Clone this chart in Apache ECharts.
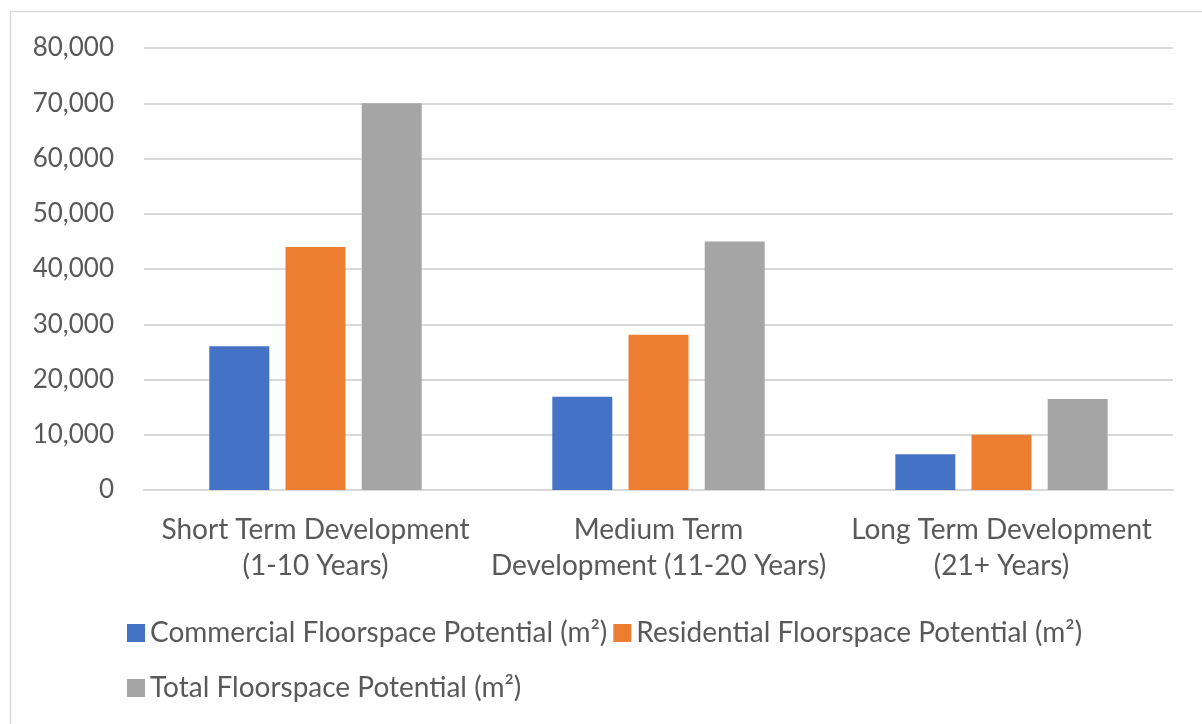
<!DOCTYPE html>
<html>
<head>
<meta charset="utf-8">
<script src="https://cdn.jsdelivr.net/npm/echarts@6/dist/echarts.min.js"></script>
<style>
  html, body { margin: 0; padding: 0; background: #ffffff; }
  #chart { width: 1202px; height: 724px; }
</style>
</head>
<body>
<div id="chart"></div>
<script>
// Development phases (two-line axis labels)
const categories = [
  'Short Term Development\n(1-10 Years)',
  'Medium Term\nDevelopment (11-20 Years)',
  'Long Term Development\n(21+ Years)'
];

// Floorspace potential in m² per phase
const commercial = [26000, 16900, 6450];
const residential = [44000, 28100, 10000];
const total = [70000, 45000, 16450];

const seriesNames = [
  'Commercial Floorspace Potential (m²)',
  'Residential Floorspace Potential (m²)',
  'Total Floorspace Potential (m²)'
];

// Value axis ticks
const yMin = 0;
const yMax = 80000;
const yStep = 10000;

const FONT = 'Lato, "Liberation Sans", sans-serif';
const TEXT = '#595959';
const GRID = '#d9d9d9';

const chart = echarts.init(document.getElementById('chart'), null, { renderer: 'canvas' });

const legendText = { color: TEXT, fontSize: 28, fontFamily: FONT };

chart.setOption({
  backgroundColor: '#ffffff',
  animation: false,
  color: ['#4472C4', '#ED7D31', '#A5A5A5'],
  graphic: [{
    type: 'rect',
    silent: true,
    shape: { x: 10.5, y: 11.5, width: 1200, height: 720 },
    style: { fill: 'none', stroke: GRID, lineWidth: 1.5 }
  }],
  grid: { left: 144, right: 29, top: 48, bottom: 234, containLabel: false },
  legend: [
    {
      data: [seriesNames[0], seriesNames[1]],
      left: 127, top: 619, padding: 0,
      itemWidth: 18, itemHeight: 18, itemGap: 6,
      icon: 'rect',
      textStyle: legendText
    },
    {
      data: [seriesNames[2]],
      left: 127, top: 674, padding: 0,
      itemWidth: 18, itemHeight: 18,
      icon: 'rect',
      textStyle: legendText
    }
  ],
  xAxis: {
    type: 'category',
    data: categories,
    axisLine: { show: true, lineStyle: { color: GRID, width: 2 } },
    axisTick: { show: false },
    axisLabel: {
      color: TEXT, fontSize: 28, fontFamily: FONT,
      lineHeight: 36, margin: 22, interval: 0
    }
  },
  yAxis: {
    type: 'value',
    min: yMin, max: yMax, interval: yStep,
    axisLine: { show: false },
    axisTick: { show: false },
    splitLine: { lineStyle: { color: GRID, width: 2 } },
    axisLabel: {
      color: TEXT, fontSize: 26, fontFamily: FONT, margin: 30,
      formatter: v => v.toLocaleString('en-US')
    }
  },
  series: [
    { name: seriesNames[0], type: 'bar', data: commercial, barWidth: 60, barGap: '27%' },
    { name: seriesNames[1], type: 'bar', data: residential, barWidth: 60, barGap: '27%' },
    { name: seriesNames[2], type: 'bar', data: total, barWidth: 60, barGap: '27%' }
  ]
});
</script>
</body>
</html>
